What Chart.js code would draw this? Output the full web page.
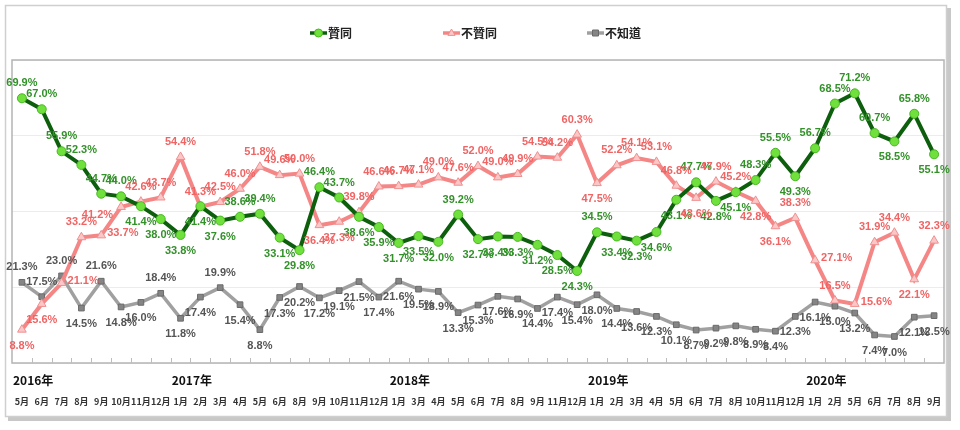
<!DOCTYPE html>
<html>
<head>
<meta charset="utf-8">
<script src="https://cdn.jsdelivr.net/npm/chart.js@4.4.1/dist/chart.umd.min.js"></script>
<style>
  html, body { margin: 0; padding: 0; background: #fff; }
</style>
</head>
<body>
<canvas id="poll" width="960" height="430"></canvas>
<script>
// month labels, 2016/5 .. 2020/9 (surveys with gaps)
const months = [
  '5月','6月','7月','8月','9月','10月','11月','12月',
  '1月','2月','3月','4月','5月','6月','8月','9月','10月','11月','12月',
  '1月','3月','4月','5月','6月','7月','8月','9月','11月','12月',
  '1月','2月','3月','4月','5月','6月','7月','8月','10月','11月','12月',
  '1月','2月','5月','6月','7月','8月','9月'
];
const years = ['2016年', '2017年', '2018年', '2019年', '2020年'];

const seriesNames = ['贊同', '不贊同', '不知道'];

const agree = [
  69.9, 67.0, 55.9, 52.3, 44.7, 44.0, 41.4, 38.0,
  33.8, 41.4, 37.6, 38.6, 39.4, 33.1, 29.8, 46.4, 43.7, 38.6, 35.9,
  31.7, 33.5, 32.0, 39.2, 32.7, 33.4, 33.3, 31.2, 28.5, 24.3,
  34.5, 33.4, 32.3, 34.6, 43.1, 47.7, 42.8, 45.1, 48.3, 55.5, 49.3,
  56.7, 68.5, 71.2, 60.7, 58.5, 65.8, 55.1
];
const disagree = [
  8.8, 15.6, 21.1, 33.2, 33.7, 41.2, 42.6, 43.7,
  54.4, 41.3, 42.5, 46.0, 51.8, 49.6, 50.0, 36.4, 37.3, 39.8, 46.6,
  46.7, 47.1, 49.0, 47.6, 52.0, 49.0, 49.9, 54.5, 54.2, 60.3,
  47.5, 52.2, 54.1, 53.1, 46.8, 43.6, 47.9, 45.2, 42.8, 36.1, 38.3,
  27.1, 16.5, 15.6, 31.9, 34.4, 22.1, 32.3
];
const unknown = [
  21.3, 17.5, 23.0, 14.5, 21.6, 14.8, 16.0, 18.4,
  11.8, 17.4, 19.9, 15.4, 8.8, 17.3, 20.2, 17.2, 19.1, 21.5, 17.4,
  21.6, 19.5, 18.9, 13.3, 15.3, 17.6, 16.9, 14.4, 17.4, 15.4,
  18.0, 14.4, 13.6, 12.3, 10.1, 8.7, 9.2, 9.8, 8.9, 8.4, 12.3,
  16.1, 15.0, 13.2, 7.4, 7.0, 12.1, 12.5
];

// label placement per point: a = above, b = below, r = right, l = left
const labelPos = [
  'aaaaaabbbb' + 'baabbaabbb' + 'bbabbbbbba' + 'bbbbabbaab' + 'aaaabab',
  'bbrarlaaaa' + 'aaaaabbaaa' + 'aaaaaaaaab' + 'aaaabaabba' + 'raraaba',
  'aaababbabb' + 'abbbbbbbbb' + 'bbbbbbbbbb' + 'bbbbbbbbbb' + 'bbbbbbb'
];

const lineColors = ['#0d5e0d', '#f58686', '#a0a0a0'];
const textColors = ['#33912a', '#f06464', '#555555'];
const LABEL_FONT = "bold 11px 'Liberation Sans Narrow', 'Arial Narrow', sans-serif";

// year label at the first month of each year
function yearStartIndexes() {
  const idx = [0];
  for (let i = 1; i < months.length; i++) {
    if (parseInt(months[i]) < parseInt(months[i - 1])) idx.push(i);
  }
  return idx;
}

function drawMarker(ctx, style, cx, cy, r) {
  if (style === 'circle') {
    ctx.arc(cx, cy, r, 0, Math.PI * 2);
  } else if (style === 'triangle') {
    ctx.moveTo(cx, cy - r);
    ctx.lineTo(cx + r * 0.9, cy + r * 0.6);
    ctx.lineTo(cx - r * 0.9, cy + r * 0.6);
    ctx.closePath();
  } else {
    ctx.rect(cx - r * 0.75, cy - r * 0.75, r * 1.5, r * 1.5);
  }
}

const framePlugin = {
  id: 'frame',
  beforeDraw(chart) {
    const ctx = chart.ctx;
    ctx.save();
    ctx.fillStyle = '#fff';
    ctx.fillRect(0, 0, chart.width, chart.height);
    // outer frame with a soft shadow
    ctx.fillStyle = '#c8c8c8';
    ctx.fillRect(8, 8, 943, 413);
    ctx.fillStyle = '#fff';
    ctx.fillRect(5, 5, 942, 412);
    ctx.strokeStyle = '#cfcfcf';
    ctx.lineWidth = 1.5;
    ctx.strokeRect(5.5, 5.5, 941, 411);
    ctx.restore();
  },
  beforeDatasetsDraw(chart) {
    const { ctx, chartArea: a, scales: { x } } = chart;
    ctx.save();
    ctx.strokeStyle = '#b4b4b4';
    ctx.lineWidth = 1.5;
    ctx.strokeRect(a.left, a.top, a.right - a.left, a.bottom - a.top);
    // small inward tick marks between categories
    ctx.strokeStyle = '#bdbdbd';
    ctx.lineWidth = 1;
    for (let i = 1; i < months.length; i++) {
      const px = Math.round((x.getPixelForValue(i - 1) + x.getPixelForValue(i)) / 2) + 0.5;
      ctx.beginPath();
      ctx.moveTo(px, a.bottom);
      ctx.lineTo(px, a.bottom - 5);
      ctx.stroke();
    }
    ctx.restore();
  },
  afterDatasetsDraw(chart) {
    const ctx = chart.ctx;
    ctx.save();
    ctx.font = LABEL_FONT;
    ctx.textBaseline = 'middle';
    chart.data.datasets.forEach((ds, d) => {
      const meta = chart.getDatasetMeta(d);
      ctx.fillStyle = textColors[d];
      meta.data.forEach((pt, i) => {
        const txt = ds.data[i].toFixed(1) + '%';
        const p = labelPos[d][i] || 'a';
        let tx = pt.x, ty = pt.y;
        if (p === 'a') { ctx.textAlign = 'center'; ty -= 15; }
        else if (p === 'b') { ctx.textAlign = 'center'; ty += 16; }
        else if (p === 'r') { ctx.textAlign = 'left'; tx += 6; ty -= 2; }
        else { ctx.textAlign = 'right'; tx -= 8; ty += 8; }
        ctx.fillText(txt, tx, ty);
      });
    });
    ctx.restore();
  },
  afterDraw(chart) {
    const { ctx, scales: { x } } = chart;
    ctx.save();
    // month labels
    ctx.fillStyle = '#333';
    ctx.font = "bold 9px 'Liberation Sans Narrow', 'Noto Sans CJK TC', sans-serif";
    ctx.textAlign = 'center';
    ctx.textBaseline = 'middle';
    months.forEach((m, i) => ctx.fillText(m, x.getPixelForValue(i), 402));
    // year labels, left aligned at the start of the year's first category
    ctx.fillStyle = '#111';
    ctx.font = "bold 12px 'Liberation Sans Narrow', 'Noto Sans CJK TC', sans-serif";
    ctx.textAlign = 'left';
    const step = x.getPixelForValue(1) - x.getPixelForValue(0);
    yearStartIndexes().forEach((idx, k) => {
      ctx.fillText(years[k], x.getPixelForValue(idx) - step / 2 + 1, 380);
    });
    // legend: line sample with marker, then name
    const legendX = [310, 443, 587];
    const ly = 33;
    chart.data.datasets.forEach((ds, d) => {
      const lx = legendX[d];
      ctx.strokeStyle = lineColors[d];
      ctx.lineWidth = 3.5;
      ctx.beginPath();
      ctx.moveTo(lx, ly);
      ctx.lineTo(lx + 17, ly);
      ctx.stroke();
      ctx.fillStyle = ds.pointBackgroundColor;
      ctx.strokeStyle = ds.pointBorderColor;
      ctx.lineWidth = 1;
      ctx.beginPath();
      drawMarker(ctx, ds.pointStyle, lx + 8.5, ly, 4);
      ctx.fill();
      ctx.stroke();
      ctx.fillStyle = '#222';
      ctx.font = "bold 12px 'Noto Sans CJK TC', sans-serif";
      ctx.textAlign = 'left';
      ctx.textBaseline = 'middle';
      ctx.fillText(ds.label, lx + 18, ly);
    });
    ctx.restore();
  }
};

new Chart(document.getElementById('poll'), {
  type: 'line',
  data: {
    labels: months,
    datasets: [
      {
        label: seriesNames[0],
        data: agree,
        borderColor: lineColors[0],
        borderWidth: 4,
        pointStyle: 'circle',
        pointRadius: 4.5,
        pointBackgroundColor: '#6fe03c',
        pointBorderColor: '#48b822',
        pointBorderWidth: 1,
        tension: 0
      },
      {
        label: seriesNames[1],
        data: disagree,
        borderColor: lineColors[1],
        borderWidth: 4,
        pointStyle: 'triangle',
        pointRadius: 5,
        pointBackgroundColor: '#fbc6c6',
        pointBorderColor: '#ef9090',
        pointBorderWidth: 1,
        tension: 0
      },
      {
        label: seriesNames[2],
        data: unknown,
        borderColor: lineColors[2],
        borderWidth: 3.5,
        pointStyle: 'rect',
        pointRadius: 4,
        pointBackgroundColor: '#858585',
        pointBorderColor: '#6a6a6a',
        pointBorderWidth: 1,
        tension: 0
      }
    ]
  },
  options: {
    responsive: false,
    animation: false,
    devicePixelRatio: 1,
    layout: { padding: { left: 12, right: 16, top: 60, bottom: 67 } },
    plugins: {
      legend: { display: false },
      tooltip: { enabled: false }
    },
    scales: {
      x: {
        offset: true,
        grid: { display: false, drawTicks: false },
        border: { display: false },
        ticks: { display: false }
      },
      y: {
        min: 0,
        max: 80,
        grid: { color: '#ececec', lineWidth: 1, drawTicks: false },
        border: { display: false },
        ticks: { display: false, stepSize: 20 }
      }
    }
  },
  plugins: [framePlugin]
});
</script>
</body>
</html>
